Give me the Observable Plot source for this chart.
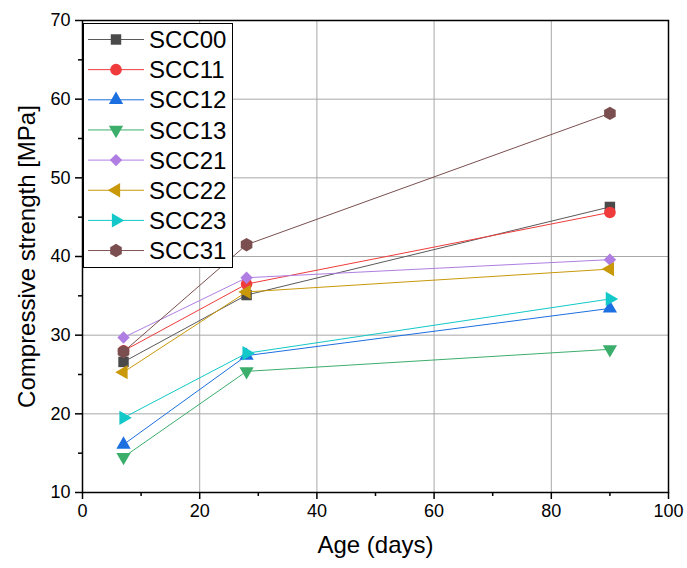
<!DOCTYPE html>
<html><head><meta charset="utf-8">
<script src="https://cdn.jsdelivr.net/npm/d3@7"></script>
<script src="https://cdn.jsdelivr.net/npm/@observablehq/plot@0.6"></script>
<style>
body{margin:0;background:#fff;font-family:"Liberation Sans",Arial,sans-serif;}
#wrap{position:relative;width:687px;height:568px;}
#legend{position:absolute;left:83px;top:23px;width:150px;height:245px;border:1.5px solid #000;background:#fff;box-sizing:border-box;}
</style></head><body><div id="wrap"></div>
<script>
const ages = [7, 28, 90];
const series = ["SCC00","SCC11","SCC12","SCC13","SCC21","SCC22","SCC23","SCC31"];
const scc00 = [26.6, 35.1, 46.3];
const scc11 = [28.0, 36.5, 45.6];
const scc12 = [16.1, 27.4, 33.4];
const scc13 = [14.5, 25.4, 28.2];
const scc21 = [29.7, 37.3, 39.6];
const scc22 = [25.3, 35.5, 38.4];
const scc23 = [19.5, 27.7, 34.6];
const scc31 = [27.9, 41.5, 58.2];
const xTicks = [0, 20, 40, 60, 80, 100];
const xMinor = [10, 30, 50, 70, 90];
const yTicks = [10, 20, 30, 40, 50, 60, 70];
const yMinor = [15, 25, 35, 45, 55, 65];

const values = [scc00, scc11, scc12, scc13, scc21, scc22, scc23, scc31];
const colors = ["#4a4a4a","#ef3b3b","#1c6fe0","#3cae6c","#b07ee2","#c9990a","#12c8c8","#7b4f4f"];
const lineColors = ["#5a5a5a","#ef3b3b","#1c6fe0","#3cae6c","#b07ee2","#c9990a","#12c8c8","#7b4f4f"];
const symbols = ["square","circle","triangle","triangle","diamond2","triangle","triangle","hexagon"];
const rotations = [0,0,0,180,0,270,90,0];
const radii = [5.9,5.8,5.3,5.3,5.6,5.3,5.3,5.8];

const seriesMarks = [];
series.forEach((s, i) => {
  const data = ages.map((a, j) => ({age: a, value: values[i][j]}));
  seriesMarks.push(Plot.line(data, {x: "age", y: "value", stroke: lineColors[i], strokeWidth: 1}));
  seriesMarks.push(Plot.dot(data, {x: "age", y: "value", fill: colors[i], stroke: "none", symbol: symbols[i], r: radii[i], rotate: rotations[i]}));
});

const chart = Plot.plot({
  width: 687, height: 568,
  marginLeft: 82, marginRight: 19, marginTop: 20, marginBottom: 76,
  x: {domain: [0, 100]},
  y: {domain: [10, 70]},
  style: {fontFamily: "'Liberation Sans', Arial, sans-serif", color: "#000", background: "#fff", overflow: "visible"},
  marks: [
    Plot.gridX(xTicks.slice(1, -1), {stroke: "#a8a8a8", strokeOpacity: 1, strokeWidth: 1}),
    Plot.gridY(yTicks.slice(1, -1), {stroke: "#a8a8a8", strokeOpacity: 1, strokeWidth: 1}),
    ...seriesMarks,
    Plot.frame({stroke: "#000", strokeWidth: 1.5}),
    Plot.axisX(xTicks, {tickSize: 7, tickPadding: 5, fontSize: 18, label: null, strokeWidth: 1.5}),
    Plot.axisX(xMinor, {tickSize: 4, tickFormat: () => "", label: null, strokeWidth: 1.5}),
    Plot.axisY(yTicks, {tickSize: 7, tickPadding: 5, fontSize: 18, label: null, strokeWidth: 1.5}),
    Plot.axisY(yMinor, {tickSize: 4, tickFormat: () => "", label: null, strokeWidth: 1.5}),
    Plot.text(["Age (days)"], {frameAnchor: "bottom", textAnchor: "middle", dy: 60, fontSize: 24, fill: "#000"}),
    Plot.text(["Compressive strength [MPa]"], {frameAnchor: "left", textAnchor: "middle", dx: -55, rotate: -90, fontSize: 24, fill: "#000"})
  ]
});
const wrap = document.getElementById("wrap");
wrap.appendChild(chart);

// Legend (inside the plot, upper left)
const legend = document.createElement("div");
legend.id = "legend";
wrap.appendChild(legend);
const sqrt4_3 = Math.sqrt(4 / 3);
const symbolHexagon = {
  draw(context, size) {
    const rx = Math.sqrt(size / Math.PI), ry = rx * sqrt4_3, hy = ry / 2;
    context.moveTo(0, ry); context.lineTo(rx, hy); context.lineTo(rx, -hy);
    context.lineTo(0, -ry); context.lineTo(-rx, -hy); context.lineTo(-rx, hy); context.closePath();
  }
};
const symMap = {square: d3.symbolSquare, circle: d3.symbolCircle, triangle: d3.symbolTriangle, diamond2: d3.symbolDiamond2 || d3.symbolDiamond, hexagon: symbolHexagon};
const svg = d3.select(legend).append("svg").attr("width", 147).attr("height", 242).style("display", "block");
series.forEach((s, i) => {
  const g = svg.append("g").attr("transform", `translate(0,${15.5 + i * 30.15})`);
  g.append("line").attr("x1", 4).attr("x2", 60).attr("y1", 0).attr("y2", 0).attr("stroke", lineColors[i]).attr("stroke-width", 1);
  g.append("path").attr("d", d3.symbol(symMap[symbols[i]], Math.PI * radii[i] * radii[i])())
    .attr("transform", `translate(32,0) rotate(${rotations[i]})`).attr("fill", colors[i]);
  g.append("text").attr("x", 65).attr("y", 0).attr("dy", "0.36em").attr("font-size", 24)
    .attr("font-family", "'Liberation Sans', Arial, sans-serif").attr("fill", "#000").text(s);
});
</script></body></html>
